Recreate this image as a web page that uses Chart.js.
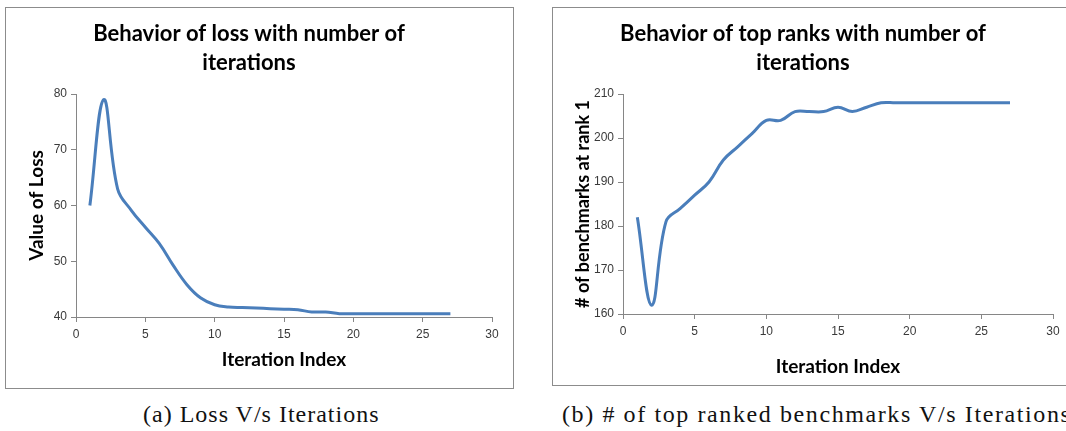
<!DOCTYPE html>
<html>
<head>
<meta charset="utf-8">
<script src="https://cdn.jsdelivr.net/npm/chart.js@4.4.0/dist/chart.umd.min.js"></script>
<style>
  body { margin: 0; background: #fff; width: 1066px; height: 431px; overflow: hidden; position: relative; }
  .box { position: absolute; border: 1px solid #8c8c8c; box-sizing: border-box; }
  .box canvas { display: block; }
  .caption { position: absolute; top: 401px; font-family: "Liberation Serif", "DejaVu Serif", serif; font-size: 24px; letter-spacing: 1px; color: #111; white-space: nowrap; }
</style>
</head>
<body>
<div class="box" id="boxA" style="left:5px; top:7px; width:509px; height:382px;"><canvas id="lossChart"></canvas></div>
<div class="box" id="boxB" style="left:552px; top:7px; width:523px; height:379px;"><canvas id="rankChart"></canvas></div>
<div class="caption" style="left:143px;">(a) Loss V/s Iterations</div>
<div class="caption" style="left:562px; letter-spacing:1.6px;">(b) # of top ranked benchmarks V/s Iterations</div>
<script>
// dati
const iterations = [1, 2, 3, 4, 5, 6, 7, 8, 9, 10, 11, 12, 13, 14, 15, 16, 17, 18, 19, 20, 21, 22, 23, 24, 25, 26, 27];
const lossValues = [60, 79, 63, 59.1, 56.1, 53.2, 49.3, 45.8, 43.4, 42.2, 41.8, 41.7, 41.6, 41.5, 41.4, 41.3, 40.9, 40.9, 40.6, 40.6, 40.6, 40.6, 40.6, 40.6, 40.6, 40.6, 40.6];
const topRankValues = [182, 162, 181, 184, 187, 190, 195, 198, 201, 204, 204, 206, 206, 206, 207, 206, 207, 208, 208, 208, 208, 208, 208, 208, 208, 208, 208];

const lineBlue = '#4a7ebb';
const axisGray = '#868686';
const tickColor = '#3a3a3a';
const titleFont = "Lato, 'Open Sans', sans-serif";

function punti(ys) {
    return iterations.map((x, i) => ({ x: x, y: ys[i] }));
}

function creaGrafico(id, titolo, yTitolo, ys, yMin, yMax, yStep, w, h) {
    const canvas = document.getElementById(id);
    canvas.width = w;
    canvas.height = h;
    return new Chart(canvas.getContext('2d'), {
        type: 'line',
        data: {
            datasets: [{
                data: punti(ys),
                borderColor: lineBlue,
                borderWidth: 3,
                pointRadius: 0,
                tension: 0.4,
                fill: false
            }]
        },
        options: {
            responsive: false,
            animation: false,
            layout: { padding: { left: 0, right: 21, top: 0, bottom: 0 } },
            plugins: {
                legend: { display: false },
                tooltip: { enabled: false },
                title: {
                    display: true,
                    text: titolo,
                    color: '#000',
                    font: { family: titleFont, size: 22, weight: 'bold', lineHeight: '29px' },
                    padding: { top: 11, bottom: 17 }
                }
            },
            scales: {
                x: {
                    type: 'linear',
                    min: 0, max: 30,
                    ticks: { stepSize: 5, color: tickColor, font: { family: 'Arial, sans-serif', size: 12 }, padding: 5, maxRotation: 0 },
                    grid: { drawOnChartArea: false, drawTicks: true, tickLength: 5, color: axisGray },
                    border: { color: axisGray, width: 1 },
                    title: {
                        display: true, text: 'Iteration Index', color: '#000',
                        font: { family: titleFont, size: 19, weight: 'bold', lineHeight: 1.2 },
                        padding: { top: 0, bottom: id === 'lossChart' ? 17 : 7 }
                    },
                    afterFit: s => { s.height = 71; }
                },
                y: {
                    min: yMin, max: yMax,
                    ticks: { stepSize: yStep, color: tickColor, font: { family: 'Arial, sans-serif', size: 12 }, padding: 4 },
                    grid: { drawOnChartArea: false, drawTicks: true, tickLength: 5, color: axisGray },
                    border: { color: axisGray, width: 1 },
                    title: {
                        display: true, text: yTitolo, color: '#000',
                        font: { family: titleFont, size: id === 'lossChart' ? 19 : 18, weight: 'bold', lineHeight: 1.2 },
                        padding: { top: 19, bottom: 0 }
                    },
                    afterFit: s => { s.width = 70; }
                }
            }
        }
    });
}

creaGrafico('lossChart', ['Behavior of loss with number of', 'iterations'], 'Value of Loss', lossValues, 40, 80, 10, 507, 380);
creaGrafico('rankChart', ['Behavior of top ranks with number of', 'iterations'], '# of benchmarks at rank 1', topRankValues, 160, 210, 10, 521, 377);
</script>
</body>
</html>
